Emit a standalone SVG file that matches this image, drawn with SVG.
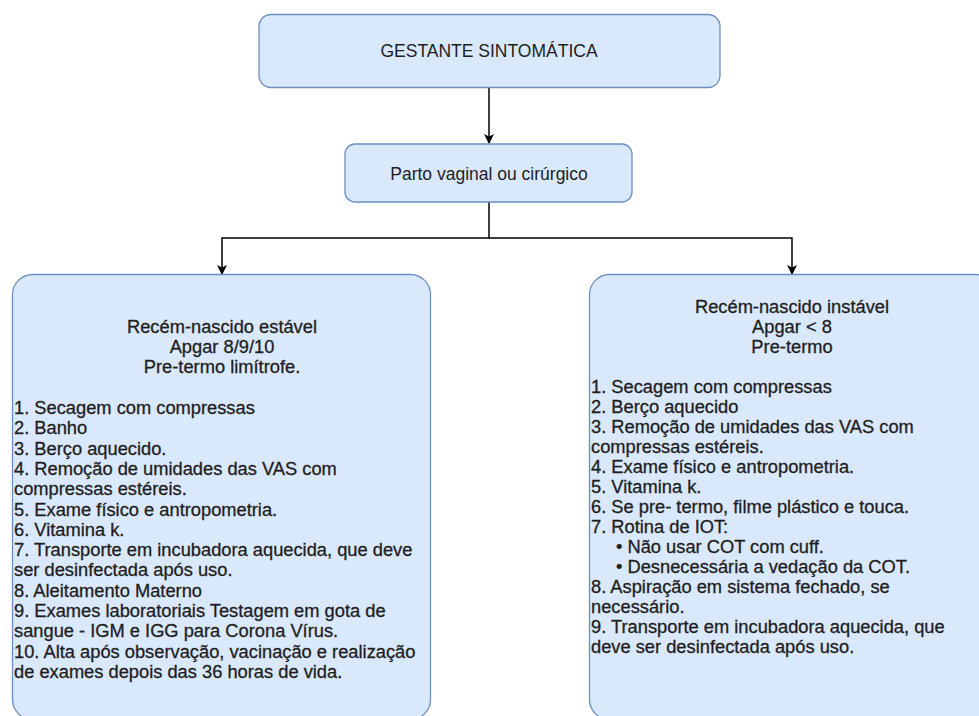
<svg xmlns="http://www.w3.org/2000/svg" width="979" height="716" viewBox="0 0 979 716">
<defs>
<style>
.box{fill:#dae8fc;stroke:#6c8ebf;stroke-width:1.3}
.t{font-family:"Liberation Sans",Arial,sans-serif;font-size:17.5px;fill:#1e1e1e}
.b{font-size:18.3px;stroke:#1e1e1e;stroke-width:0.3}
.c{text-anchor:middle}
.ln{fill:none;stroke:#000;stroke-width:1.5}
</style>
<marker id="ah" viewBox="0 0 10 10" refX="9" refY="5" markerWidth="10" markerHeight="10" markerUnits="userSpaceOnUse" orient="auto">
<path d="M0,0 L10,5 L0,10 L2.5,5 Z" fill="#000"/>
</marker>
</defs>
<rect width="979" height="716" fill="#fff"/>
<g id="connectors">
<path class="ln" d="M489,88 V143" marker-end="url(#ah)"/>
<path class="ln" d="M489,202 V238 H222 V274" marker-end="url(#ah)"/>
<path class="ln" d="M489,238 H792 V274" marker-end="url(#ah)"/>
</g>
<g id="gestante">
<rect class="box" x="259" y="14.5" width="461" height="73" rx="12"/>
<text class="t c" x="489" y="57">GESTANTE SINTOMÁTICA</text>
</g>
<g id="parto">
<rect class="box" x="345" y="144" width="287" height="58" rx="10"/>
<text class="t c" x="489" y="180">Parto vaginal ou cirúrgico</text>
</g>
<g id="estavel">
<rect class="box" x="12.5" y="274.5" width="418" height="445" rx="20"/>
<text class="t b c" x="222" y="333">Recém-nascido estável</text>
<text class="t b c" x="222" y="353">Apgar 8/9/10</text>
<text class="t b c" x="222" y="373">Pre-termo limítrofe.</text>
<text class="t b" x="14" y="414">1. Secagem com compressas</text>
<text class="t b" x="14" y="434.3">2. Banho</text>
<text class="t b" x="14" y="454.6">3. Berço aquecido.</text>
<text class="t b" x="14" y="474.9">4. Remoção de umidades das VAS com</text>
<text class="t b" x="14" y="495.2">compressas estéreis.</text>
<text class="t b" x="14" y="515.5">5. Exame físico e antropometria.</text>
<text class="t b" x="14" y="535.8">6. Vitamina k.</text>
<text class="t b" x="14" y="556.1">7. Transporte em incubadora aquecida, que deve</text>
<text class="t b" x="14" y="576.4">ser desinfectada após uso.</text>
<text class="t b" x="14" y="596.7">8. Aleitamento Materno</text>
<text class="t b" x="14" y="617">9. Exames laboratoriais Testagem em gota de</text>
<text class="t b" x="14" y="637.3">sangue - IGM e IGG para Corona Vírus.</text>
<text class="t b" x="14" y="657.6">10. Alta após observação, vacinação e realização</text>
<text class="t b" x="14" y="677.9">de exames depois das 36 horas de vida.</text>
</g>
<g id="instavel">
<rect class="box" x="589.5" y="274.5" width="406" height="445" rx="20"/>
<text class="t b c" x="792" y="313">Recém-nascido instável</text>
<text class="t b c" x="792" y="333">Apgar &lt; 8</text>
<text class="t b c" x="792" y="353">Pre-termo</text>
<text class="t b" x="591" y="393">1. Secagem com compressas</text>
<text class="t b" x="591" y="413">2. Berço aquecido</text>
<text class="t b" x="591" y="433">3. Remoção de umidades das VAS com</text>
<text class="t b" x="591" y="453">compressas estéreis.</text>
<text class="t b" x="591" y="473">4. Exame físico e antropometria.</text>
<text class="t b" x="591" y="493">5. Vitamina k.</text>
<text class="t b" x="591" y="513">6. Se pre- termo, filme plástico e touca.</text>
<text class="t b" x="591" y="533">7. Rotina de IOT:</text>
<text class="t b" x="616" y="553">• Não usar COT com cuff.</text>
<text class="t b" x="616" y="573">• Desnecessária a vedação da COT.</text>
<text class="t b" x="591" y="593">8. Aspiração em sistema fechado, se</text>
<text class="t b" x="591" y="613">necessário.</text>
<text class="t b" x="591" y="633">9. Transporte em incubadora aquecida, que</text>
<text class="t b" x="591" y="653">deve ser desinfectada após uso.</text>
</g>
</svg>
